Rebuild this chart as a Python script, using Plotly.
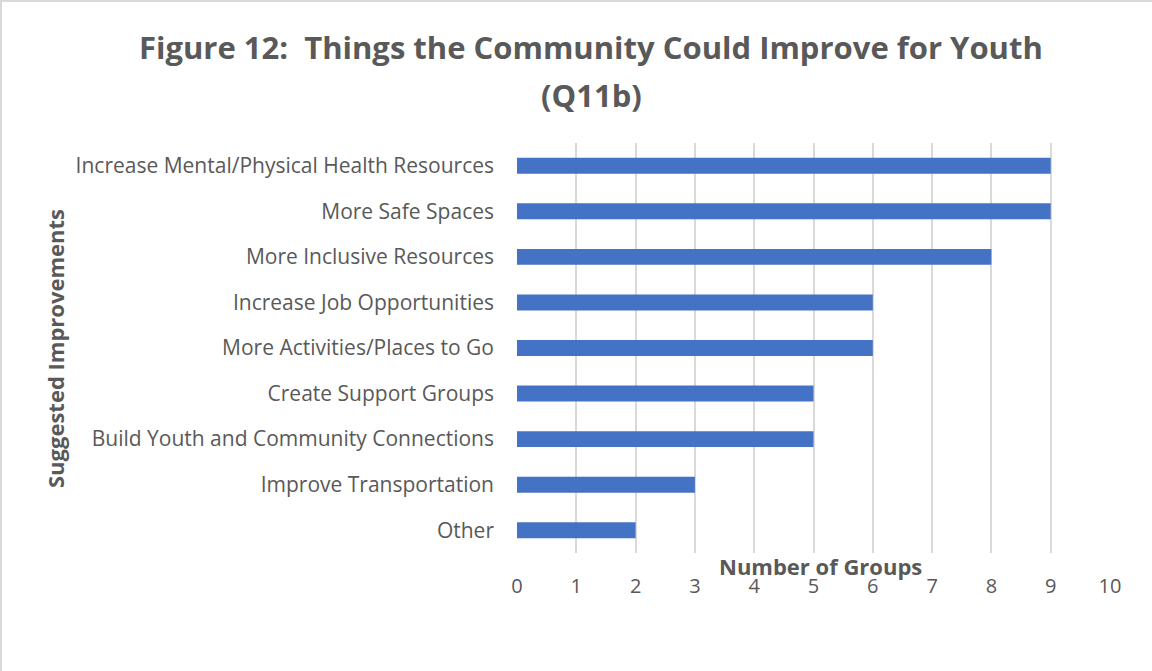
import plotly.graph_objects as go

# Suggested improvements, listed top to bottom as they appear on the chart
categories = [
    "Increase Mental/Physical Health Resources",
    "More Safe Spaces",
    "More Inclusive Resources",
    "Increase Job Opportunities",
    "More Activities/Places to Go",
    "Create Support Groups",
    "Build Youth and Community Connections",
    "Improve Transportation",
    "Other",
]
group_counts = [9, 9, 8, 6, 6, 5, 5, 3, 2]
x_ticks = list(range(0, 11))

FONT = "Open Sans"
GREY = "#595959"

# Plot-area geometry in pixels, used to place paper-referenced items
L, R, T, B = 517, 42, 143, 118
W, H = 1152, 671
PW, PH = W - L - R, H - T - B


def px_x(x):
    return (x - L) / PW


def px_y(y):
    return (H - B - y) / PH


fig = go.Figure(
    go.Bar(
        x=group_counts,
        y=categories,
        orientation="h",
        marker=dict(color="#4472C4", line=dict(width=0)),
        width=0.35,
        hoverinfo="x+y",
    )
)

fig.update_layout(
    width=W,
    height=H,
    margin=dict(l=L, r=R, t=T, b=B),
    paper_bgcolor="white",
    plot_bgcolor="white",
    showlegend=False,
    font=dict(family=FONT, color=GREY),
)

fig.update_xaxes(
    range=[0, 10],
    tickvals=x_ticks,
    showgrid=True,
    gridcolor="#d9d9d9",
    gridwidth=1.5,
    zeroline=False,
    showline=False,
    ticks="",
    ticklabelstandoff=19,
    tickfont=dict(family=FONT, size=20, color=GREY),
)

fig.update_yaxes(
    categoryorder="array",
    categoryarray=categories[::-1],
    showgrid=False,
    zeroline=False,
    showline=False,
    ticks="",
    ticklabelstandoff=22,
    tickfont=dict(family=FONT, size=21, color=GREY),
)

# Two-line chart title
for text, y in [("Figure 12:  Things the Community Could Improve for Youth", 47),
                ("(Q11b)", 95)]:
    fig.add_annotation(
        text=f"<b>{text}</b>",
        xref="paper", yref="paper",
        x=px_x(591), y=px_y(y),
        xanchor="center", yanchor="middle",
        showarrow=False,
        font=dict(family=FONT, size=31, color=GREY),
    )

# Axis titles
fig.add_annotation(
    text="<b>Number of Groups</b>",
    xref="paper", yref="paper",
    x=px_x(820), y=px_y(566),
    xanchor="center", yanchor="middle",
    showarrow=False,
    font=dict(family=FONT, size=22, color=GREY),
)
fig.add_annotation(
    text="<b>Suggested Improvements</b>",
    xref="paper", yref="paper",
    x=px_x(55), y=px_y(349),
    xanchor="center", yanchor="middle",
    textangle=-90,
    showarrow=False,
    font=dict(family=FONT, size=22, color=GREY),
)

# Thin chart-area border along the top and left edges
fig.add_shape(type="line", xref="paper", yref="paper",
              x0=px_x(0), x1=px_x(W), y0=px_y(1), y1=px_y(1),
              line=dict(color="#d9d9d9", width=2))
fig.add_shape(type="line", xref="paper", yref="paper",
              x0=px_x(1), x1=px_x(1), y0=px_y(0), y1=px_y(H),
              line=dict(color="#d9d9d9", width=2))

fig.write_html("out.html")
